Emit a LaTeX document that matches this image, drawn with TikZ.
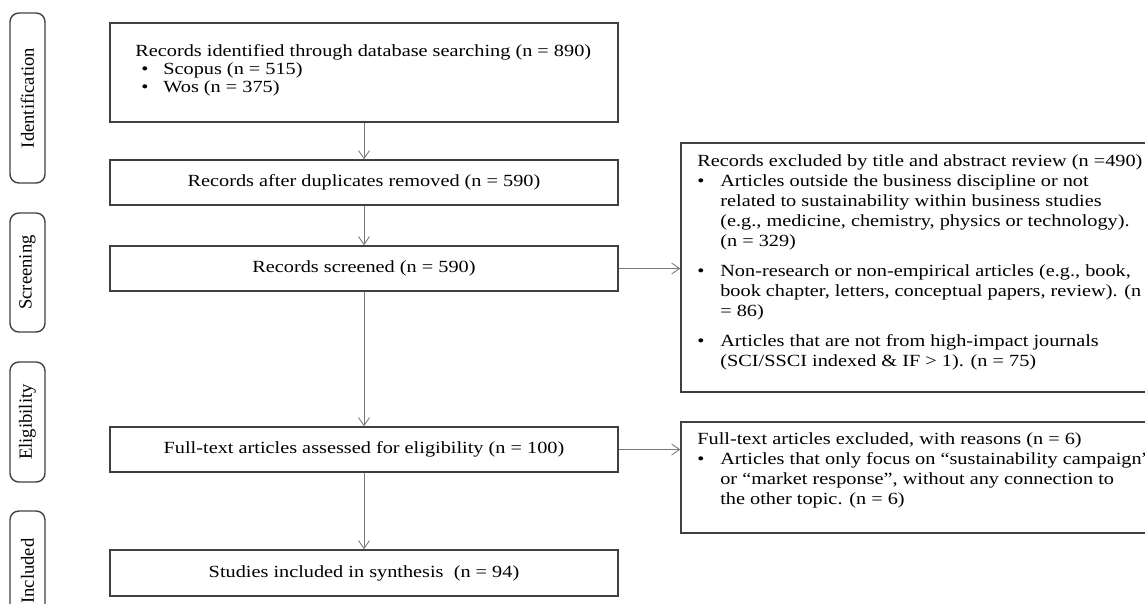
\documentclass[tikz,border=0pt]{standalone}
\usepackage{fontspec}
\setmainfont{Liberation Serif}
\newfontfamily\widefont[FakeStretch=1.19]{Liberation Serif}
\usetikzlibrary{arrows.meta}
\definecolor{boxline}{HTML}{404040}
\definecolor{arrowline}{HTML}{7A7A7A}

\begin{document}
\begin{tikzpicture}[
  x=0.02cm, y=-0.02cm,
  box/.style={draw=boxline, line width=0.8pt, minimum width=10.16cm, minimum height=0.9cm, inner sep=0pt, font=\widefont\fontsize{9.7}{11.4}\selectfont},
  stage/.style={draw=boxline, line width=0.8pt, rounded corners=5pt, minimum height=0.7cm, rotate=90, inner sep=0pt, font=\fontsize{10.6}{12}\selectfont},
  note/.style={draw=boxline, line width=0.8pt, minimum width=9.68cm, inner sep=0pt},
  listtext/.style={anchor=north west, inner sep=0pt, align=left, font=\widefont\fontsize{9.7}{11.4}\selectfont},
  arrow/.style={-{Straight Barb[length=1.6mm, width=2.2mm]}, draw=arrowline, line width=0.5pt}
]
  \useasboundingbox (0,0) rectangle (1145,603);
  \clip (0,0) rectangle (1145,603);

  % Stage labels (left side)
  \node[stage, minimum width=3.4cm] (ident) at (27.5, 98) {Identification};
  \node[stage, minimum width=2.38cm] (screen) at (27.5, 272.5) {Screening};
  \node[stage, minimum width=2.4cm] (elig) at (27.5, 422) {Eligibility};
  \node[stage, minimum width=2.4cm] (incl) at (27.5, 571) {Included};

  % Main flow
  \node[box, minimum height=1.98cm] (recid) at (364, 72.5) {};
  \node[listtext, font=\widefont\fontsize{9.7}{10.2}\selectfont] (recidtxt) at (135, 44)
    {Records identified through database searching (n = 890)\\
     \hspace*{0.12cm}\makebox[0.44cm][l]{•}Scopus (n = 515)\\
     \hspace*{0.12cm}\makebox[0.44cm][l]{•}Wos (n = 375)};
  \node[box] (dup) at (364, 182.5) {Records after duplicates removed (n = 590)};
  \node[box] (scr) at (364, 268.5) {Records screened (n = 590)};
  \node[box] (full) at (364, 449.5) {Full-text articles assessed for eligibility (n = 100)};
  \node[box, minimum height=0.92cm] (study) at (364, 573) {Studies included in synthesis~ (n = 94)};

  % Exclusion boxes (right side)
  \node[note, minimum height=4.98cm] (excl1) at (923, 267.5) {};
  \node[listtext] (excl1txt) at (697, 154)
    {Records excluded by title and abstract review (n =490)\\
     \makebox[0.46cm][l]{•}Articles outside the business discipline or not\\
     \hspace*{0.46cm}related to sustainability within business studies\\
     \hspace*{0.46cm}(e.g., medicine, chemistry, physics or technology).\\
     \hspace*{0.46cm}(n = 329)\\[5.7pt]
     \makebox[0.46cm][l]{•}Non-research or non-empirical articles (e.g., book,\\
     \hspace*{0.46cm}book chapter, letters, conceptual papers, review). (n\\
     \hspace*{0.46cm}= 86)\\[5.7pt]
     \makebox[0.46cm][l]{•}Articles that are not from high-impact journals\\
     \hspace*{0.46cm}(SCI/SSCI indexed \& IF > 1). (n = 75)};
  \node[note, minimum height=2.22cm] (excl2) at (923, 477.5) {};
  \node[listtext] (excl2txt) at (697, 432)
    {Full-text articles excluded, with reasons (n = 6)\\
     \makebox[0.46cm][l]{•}Articles that only focus on “sustainability campaign”\\
     \hspace*{0.46cm}or “market response”, without any connection to\\
     \hspace*{0.46cm}the other topic. (n = 6)};

  % Arrows
  \draw[arrow] (recid.south) -- (dup.north);
  \draw[arrow] (dup.south) -- (scr.north);
  \draw[arrow] (scr.south) -- (full.north);
  \draw[arrow] (full.south) -- (study.north);
  \draw[arrow] (scr.east) -- (scr.east -| excl1.west);
  \draw[arrow] (full.east) -- (full.east -| excl2.west);
\end{tikzpicture}
\end{document}
